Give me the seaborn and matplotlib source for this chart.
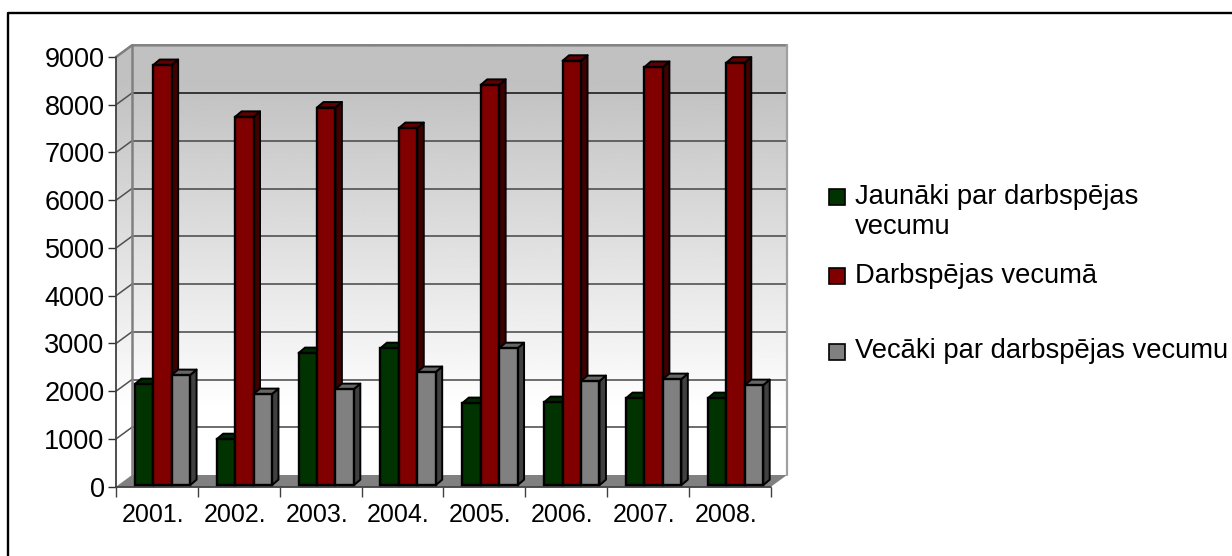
import numpy as np
import pandas as pd
import matplotlib
matplotlib.use("Agg")
import matplotlib.pyplot as plt
from matplotlib.lines import Line2D
from matplotlib.patches import Polygon, Rectangle
from matplotlib.transforms import Affine2D, IdentityTransform
import seaborn as sns

# values
years = ["2001.", "2002.", "2003.", "2004.", "2005.", "2006.", "2007.", "2008."]
series = ["Jaunāki par darbspējas\nvecumu", "Darbspējas vecumā", "Vecāki par darbspējas vecumu"]
young = [2117, 964, 2767, 2870, 1720, 1740, 1824, 1824]
working = [8800, 7715, 7910, 7480, 8385, 8890, 8760, 8850]
old = [2306, 1908, 2012, 2370, 2870, 2180, 2222, 2096]
y_ticks = [0, 1000, 2000, 3000, 4000, 5000, 6000, 7000, 8000, 9000]

front_colors = ["#003300", "#800000", "#808080"]
side_colors = ["#001a00", "#400000", "#404040"]
top_colors = ["#002800", "#600000", "#666666"]

W, H = 1232, 556
DEPTH_X, DEPTH_Y = 16, 11.7     # wall offset from the front plane
BAR_DX, BAR_DY = 5.5, 1.5       # bars stand a bit behind the front plane
BAR_DEPTH_X, BAR_DEPTH_Y = 6.5, 5.5

sns.set_theme(style="white")
plt.rcParams["font.family"] = ["Liberation Sans", "DejaVu Sans"]

df = pd.DataFrame({
    "year": years * 3,
    "series": [s for s in series for _ in years],
    "value": young + working + old,
})


def box(x0, y0, x1, y1):
    # pixel box of the picture (y from top) to figure fractions
    return [x0 / W, 1 - y1 / H, (x1 - x0) / W, (y1 - y0) / H]


fig = plt.figure(figsize=(W / 100, H / 100), dpi=100)
fig.patch.set_facecolor("white")
ax = fig.add_axes(box(116, 57, 771, 486.7))
ax.patch.set_alpha(0)

sns.barplot(data=df, x="year", y="value", hue="series", palette=front_colors,
            width=0.675, gap=0, edgecolor="black", linewidth=1.7, saturation=1,
            legend=False, ax=ax, zorder=5)
ax.set_xlim(-0.5, 7.5)
ax.set_ylim(0, 9000)
ax.set_xlabel("")
ax.set_ylabel("")
for s in ax.spines.values():
    s.set_visible(False)
ax.set_yticks(y_ticks)
ax.set_xticks(np.arange(len(years)))
ax.set_xticklabels(years)
ax.set_xticks(np.arange(len(years) + 1) - 0.5, minor=True)
ax.tick_params(axis="x", which="major", length=0, pad=11.5, labelsize=18, colors="black")
ax.tick_params(axis="x", which="minor", length=7, width=1, color="#404040", bottom=True)
ax.tick_params(axis="y", length=6, width=1, color="#303030", pad=2.2, labelsize=19.5,
               labelcolor="black", left=True)
# year labels sit a little left of the tick centres
for lab in ax.get_xticklabels():
    lab.set_transform(lab.get_transform() + Affine2D().translate(-4, 0))

to_px = ax.transData
x_l, x_r = to_px.transform((-0.5, 0))[0], to_px.transform((7.5, 0))[0]
y_0, y_top = to_px.transform((0, 0))[1], to_px.transform((0, 9000))[1]
pix = IdentityTransform()

# back wall with gradient, grey at the top fading to white
rows = np.arange(256) / 255 * (486.7 - 45.3) + 45.3
grad = np.clip(0.755 + 0.245 * (rows - 80) / 330, 0.755, 1.0).reshape(-1, 1)
wall_ax = fig.add_axes(box(116, 45.3, 787, 486.7), zorder=-1)
wall_ax.imshow(grad, cmap="gray", vmin=0, vmax=1, aspect="auto", extent=[0, 1, 0, 1])
wall_ax.axis("off")
ax.set_zorder(1)
# white out the wedges outside the box
fig.add_artist(Polygon([(x_l - 1, y_top + DEPTH_Y + 1), (x_l + DEPTH_X, y_top + DEPTH_Y + 1),
                        (x_l - 1, y_top)], transform=pix, fc="white", ec="none", zorder=0))
fig.add_artist(Polygon([(x_l - 1, y_0 - 3), (x_r + 1, y_0 - 3), (x_r + 1, y_0 - 12),
                        (x_r + DEPTH_X + 1, y_0 + DEPTH_Y), (x_r + DEPTH_X + 1, y_0 - 3)],
                       transform=pix, fc="white", ec="none", zorder=0))

# floor
ax.add_patch(Polygon([(x_l, y_0), (x_r, y_0), (x_r + DEPTH_X, y_0 + DEPTH_Y), (x_l + DEPTH_X, y_0 + DEPTH_Y)],
                     transform=pix, fc="#808080", ec="none", zorder=2, clip_on=False))
# grid on the wall and diagonals on the left side
for v in y_ticks[1:-1]:
    yp = to_px.transform((0, v))[1]
    col = "#101010" if v == 8000 else "#454545"
    ax.plot([x_l + DEPTH_X, x_r + DEPTH_X], [yp + DEPTH_Y] * 2, color=col, lw=1.1,
            transform=pix, zorder=2, clip_on=False)
for v in y_ticks[1:]:
    yp = to_px.transform((0, v))[1]
    ax.plot([x_l, x_l + DEPTH_X], [yp, yp + DEPTH_Y], color="#505050", lw=1.1,
            transform=pix, zorder=2, clip_on=False)
# wall frame
ax.plot([x_l + DEPTH_X, x_l + DEPTH_X], [y_0 + DEPTH_Y, y_top + DEPTH_Y], color="#808080", lw=1.8,
        transform=pix, zorder=2, clip_on=False)
ax.plot([x_l, x_l + DEPTH_X, x_r + DEPTH_X], [y_top, y_top + DEPTH_Y, y_top + DEPTH_Y],
        color="#808080", lw=1.8, transform=pix, zorder=2, clip_on=False)
ax.plot([x_r + DEPTH_X] * 2, [y_top + DEPTH_Y, y_0 + DEPTH_Y], color="#a0a0a0", lw=1.6,
        transform=pix, zorder=2, clip_on=False)
# front axis lines
ax.plot([x_l, x_l], [y_0, y_top], color="#404040", lw=1.3, transform=pix, zorder=3, clip_on=False)
ax.plot([x_l, x_r], [y_0, y_0], color="#404040", lw=1.3, transform=pix, zorder=3, clip_on=False)

# 3D faces of the bars, worked out from the bars seaborn drew
fig.canvas.draw()
shift = Affine2D().translate(BAR_DX, BAR_DY)
bars = [b for b in ax.patches if isinstance(b, Rectangle) and b.get_height() > 0]
n_years = len(years)
for i, bar in enumerate(bars[:3 * n_years]):
    s_idx = i // n_years
    z = 5 + s_idx * 2
    (x0, y0), (x1, y1) = to_px.transform(bar.get_bbox().get_points())
    x0, x1, y0, y1 = x0 + BAR_DX, x1 + BAR_DX, y0 + BAR_DY, y1 + BAR_DY
    dx, dy = BAR_DEPTH_X, BAR_DEPTH_Y
    ax.add_patch(Polygon([(x1, y0), (x1 + dx, y0 + dy), (x1 + dx, y1 + dy), (x1, y1)], transform=pix,
                         fc=side_colors[s_idx], ec="black", lw=1.4, zorder=z, clip_on=False, joinstyle="round"))
    ax.add_patch(Polygon([(x0, y1), (x0 + dx, y1 + dy), (x1 + dx, y1 + dy), (x1, y1)], transform=pix,
                         fc=top_colors[s_idx], ec="black", lw=1.4, zorder=z, clip_on=False, joinstyle="round"))
    bar.set_transform(ax.transData + shift)
    bar.set_zorder(z + 1)
    bar.set_clip_on(False)

# legend, placed by hand because its rows are unevenly spaced
legend_y = [197, 276, 352]
for name, col, yc in zip(series, front_colors, legend_y):
    fig.add_artist(Rectangle((829 / W, 1 - (yc + 8) / H), 16 / W, 16 / H, transform=fig.transFigure,
                             fc=col, ec="black", lw=1.2))
    fig.text(855 / W, 1 - (yc - 13.5) / H, name, fontsize=19.7, va="top", ha="left",
             color="black", linespacing=1.22)

# the frame shows only on the top and left
fig.add_artist(Line2D([7.8 / W, 7.8 / W, 1], [0, 1 - 13.2 / H, 1 - 13.2 / H], transform=fig.transFigure,
                      color="black", lw=1.7))

fig.savefig("out.png", dpi=100)
